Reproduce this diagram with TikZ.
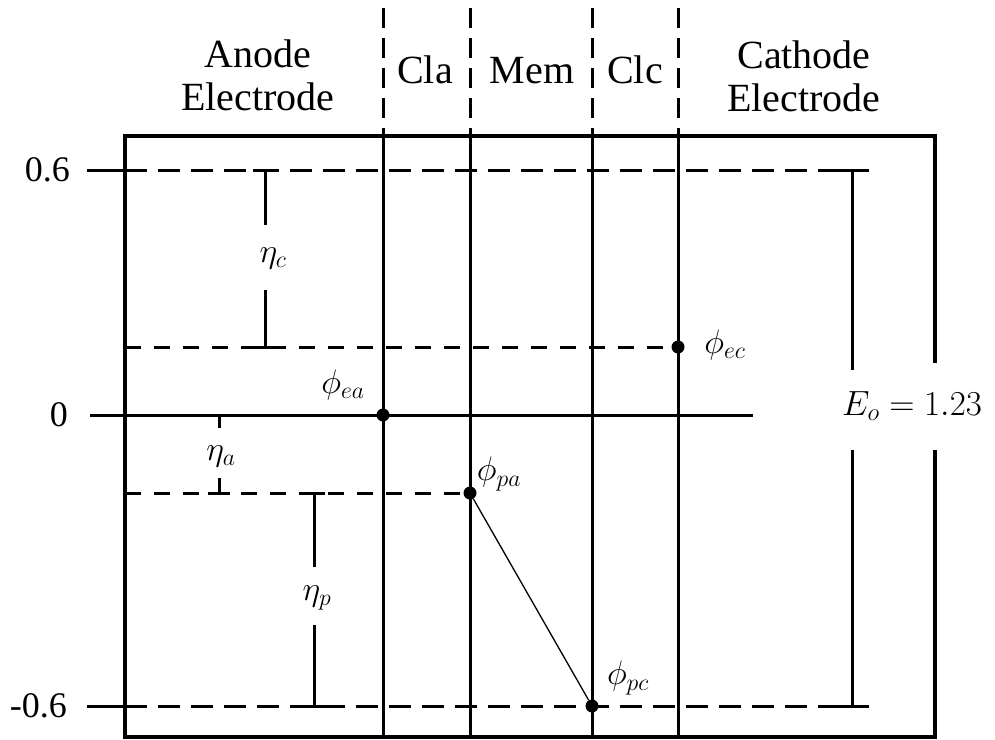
\RequirePackage{fix-cm}
\documentclass[tikz,border=0pt]{standalone}
\usepackage{fontspec}
\setmainfont{Liberation Serif}
\begin{document}
\begin{tikzpicture}[x=1pt,y=-1pt,
  box/.style={line width=4pt},
  layer/.style={line width=3pt},
  guide/.style={line width=3pt, dash pattern=on 16pt off 13pt},
  level/.style={line width=3pt, dash pattern=on 22pt off 11pt},
  topdash/.style={line width=3pt, dash pattern=on 20pt off 10pt},
  bar/.style={line width=3pt},
  thinline/.style={line width=1.3pt},
  dot/.style={circle, fill=black, inner sep=0pt, minimum size=13pt},
  head/.style={font=\fontsize{40}{43}\selectfont, align=center, inner sep=0pt},
  axis/.style={font=\fontsize{36}{40}\selectfont, inner sep=0pt, anchor=east},
  mlab/.style={font=\fontsize{34}{40}\selectfont, inner sep=0pt},
]
\useasboundingbox (0,0) rectangle (995,739);

% headers
\node[head] (anode) at (258,75) {Anode\\Electrode};
\node[head, anchor=base] (cla) at (425,83) {Cla};
\node[head, anchor=base] (mem) at (532,83) {Mem};
\node[head, anchor=base] (clc) at (635,83) {Clc};
\node[head] (cath) at (804,76) {Cathode\\Electrode};

% outer box with gap on the right edge
\draw[box] (935,363) -- (935,136) -- (125,136) -- (125,737) -- (935,737) -- (935,450);

% layer boundaries
\foreach \xx in {383,470,592,678}{
  \draw[topdash] (\xx,8) -- (\xx,136);
  \draw[layer] (\xx,136) -- (\xx,737);
}

% levels
\draw[layer] (87,170) -- (125,170);
\draw[level] (125,170) -- (867,170);
\draw[layer] (87,706) -- (125,706);
\draw[level] (125,706) -- (867,706);
\draw[layer] (90,415) -- (753,415);
\draw[guide] (125,347) -- (678,347);
\draw[guide] (125,493) -- (470,493);

% axis labels
\node[axis] (l06) at (70,170) {0.6};
\node[axis] (l0) at (68,415) {0};
\node[axis] (lm06) at (67,706) {-0.6};

% eta_c
\draw[bar] (265,170) -- (265,225);
\draw[bar] (265,290) -- (265,347);
\draw[bar] (253,347) -- (277,347);
\draw[bar] (253,170) -- (277,170);
\node[mlab] (lnc) at (273,258) {$\eta_c$};

% eta_a
\draw[bar] (219,415) -- (219,428);
\draw[bar] (219,478) -- (219,493);
\draw[bar] (208,493) -- (230,493);
\node[mlab] (lna) at (221,456) {$\eta_a$};

% eta_p
\draw[bar] (314,493) -- (314,567);
\draw[bar] (314,625) -- (314,706);
\draw[bar] (303,493) -- (325,493);
\draw[bar] (302,706) -- (326,706);
\node[mlab] (lnp) at (317,598) {$\eta_p$};

% E_o
\draw[bar] (852,170) -- (852,370);
\draw[bar] (852,450) -- (852,706);
\draw[bar] (835,170) -- (869,170);
\draw[bar] (835,706) -- (869,706);
\node[mlab, font=\fontsize{35}{40}\selectfont] (leo) at (912,406) {$E_o = 1.23$};

% potential points
\node[dot] (ea) at (383,415) {};
\node[dot] (pa) at (470,493) {};
\node[dot] (pc) at (592,706) {};
\node[dot] (ec) at (678,347) {};
\draw[thinline] (pa) -- (pc);

\node[mlab] (lea) at (343,385) {$\phi_{ea}$};
\node[mlab] (lpa) at (499,474) {$\phi_{pa}$};
\node[mlab] (lec) at (725,345) {$\phi_{ec}$};
\node[mlab] (lpc) at (628,678) {$\phi_{pc}$};
\end{tikzpicture}
\end{document}
